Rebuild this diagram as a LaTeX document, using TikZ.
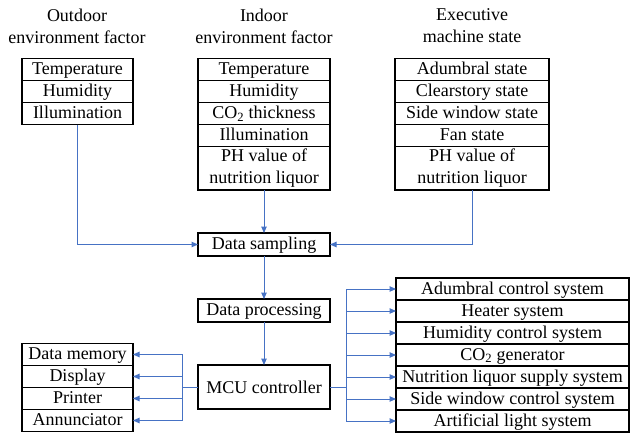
\documentclass[tikz,border=0pt]{standalone}
\usepackage{fontspec}
\setmainfont{Liberation Serif}
\usetikzlibrary{positioning}
\usetikzlibrary{arrows.meta}

\definecolor{linkblue}{RGB}{70,114,196}

\tikzset{
  box/.style={draw, line width=1.1pt, inner sep=0pt, outer sep=0pt},
  cell/.style={box, minimum height=22pt, text height=14.5pt, text depth=4pt},
  twoline/.style={box, minimum height=43.5pt, align=center},
  link/.style={draw=linkblue, line width=1pt, -{Triangle[length=6.5pt,width=5.5pt]}},
  bus/.style={draw=linkblue, line width=1pt},
  title/.style={align=center}
}

\begin{document}
\begin{tikzpicture}[x=1pt, y=-1pt, font=\fontsize{18}{22}\selectfont]
  \useasboundingbox (0,0) rectangle (633,434);

  % column titles
  \node[title] (outtitle) at (77,26) {Outdoor\\environment factor};
  \node[title] (intitle) at (264,26) {Indoor\\environment factor};
  \node[title] (extitle) at (472,26) {Executive\\machine state};

  % outdoor factors
  \node[cell, minimum width=111pt] (out1) at (77.5,69.5) {Temperature};
  \node[cell, minimum width=111pt, below=0pt of out1] (out2) {Humidity};
  \node[cell, minimum width=111pt, below=0pt of out2] (out3) {Illumination};

  % indoor factors
  \node[cell, minimum width=132pt] (in1) at (264,69.5) {Temperature};
  \node[cell, minimum width=132pt, below=0pt of in1] (in2) {Humidity};
  \node[cell, minimum width=132pt, below=0pt of in2] (in3) {CO\textsubscript{2} thickness};
  \node[cell, minimum width=132pt, below=0pt of in3] (in4) {Illumination};
  \node[twoline, minimum width=132pt, below=0pt of in4] (in5) {PH value of\\nutrition liquor};

  % machine states
  \node[cell, minimum width=154pt] (ex1) at (472,69.5) {Adumbral state};
  \node[cell, minimum width=154pt, below=0pt of ex1] (ex2) {Clearstory state};
  \node[cell, minimum width=154pt, below=0pt of ex2] (ex3) {Side window state};
  \node[cell, minimum width=154pt, below=0pt of ex3] (ex4) {Fan state};
  \node[twoline, minimum width=154pt, below=0pt of ex4] (ex5) {PH value of\\nutrition liquor};

  % main chain
  \node[cell, minimum width=132pt, minimum height=23pt] (samp) at (264,244.5) {Data sampling};
  \node[cell, minimum width=132pt, minimum height=23pt] (proc) at (264,310.5) {Data processing};
  \node[box, minimum width=132pt, minimum height=44pt] (mcu) at (264,387) {MCU controller};

  % peripherals
  \node[cell, minimum width=111pt] (mem) at (77.5,354.5) {Data memory};
  \node[cell, minimum width=111pt, below=0pt of mem] (disp) {Display};
  \node[cell, minimum width=111pt, below=0pt of disp] (prn) {Printer};
  \node[cell, minimum width=111pt, below=0pt of prn] (ann) {Annunciator};

  % control systems
  \node[cell, minimum width=233pt] (sys1) at (512.5,289) {Adumbral control system};
  \node[cell, minimum width=233pt, below=0pt of sys1] (sys2) {Heater system};
  \node[cell, minimum width=233pt, below=0pt of sys2] (sys3) {Humidity control system};
  \node[cell, minimum width=233pt, below=0pt of sys3] (sys4) {CO\textsubscript{2} generator};
  \node[cell, minimum width=233pt, below=0pt of sys4] (sys5) {Nutrition liquor supply system};
  \node[cell, minimum width=233pt, below=0pt of sys5] (sys6) {Side window control system};
  \node[cell, minimum width=233pt, below=0pt of sys6] (sys7) {Artificial light system};

  % connectors
  \draw[link] (out3.south) |- (samp.west);
  \draw[link] (in5.south) -- (samp.north);
  \draw[link] (ex5.south) |- (samp.east);
  \draw[link] (samp.south) -- (proc.north);
  \draw[link] (proc.south) -- (mcu.north);

  \coordinate (lbus) at (182,387);
  \coordinate (rbus) at (346,387);
  \draw[bus] (mcu.west) -- (lbus);
  \draw[bus] (mcu.east) -- (rbus);
  \foreach \dev in {mem,disp,prn,ann}
    \draw[link] (lbus) |- (\dev.east);
  \foreach \i in {1,...,7}
    \draw[link] (rbus) |- (sys\i.west);
\end{tikzpicture}
\end{document}
